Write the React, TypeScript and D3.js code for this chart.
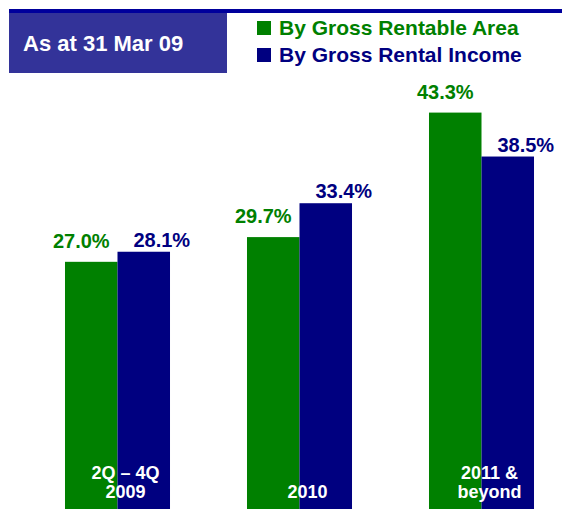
import React, { useEffect, useRef } from 'react';
import * as d3 from 'd3';

const categories = ['2Q – 4Q\n2009', '2010', '2011 &\nbeyond'];
const seriesNames = ['By Gross Rentable Area', 'By Gross Rental Income'];
const areaValues = [27.0, 29.7, 43.3];
const incomeValues = [28.1, 33.4, 38.5];
const seriesColors = ['#008000', '#000080'];
const title = 'As at 31 Mar 09';

const WIDTH = 562;
const HEIGHT = 511;
const FONT = '"Liberation Sans", Arial, sans-serif';

const App = () => {
  const svgRef = useRef<SVGSVGElement>(null);

  useEffect(() => {
    const svg = d3.select(svgRef.current);
    svg.selectAll('*').remove();

    const series = [areaValues, incomeValues];
    const baseline = 509;

    const x0 = d3.scaleBand().domain(categories).range([26.5, 572.5]).paddingInner(0.423).paddingOuter(0.2115);
    const x1 = d3.scaleBand().domain(seriesNames).range([0, x0.bandwidth()]);
    const y = d3.scaleLinear().domain([0, 50]).range([baseline, baseline - 457.75]);

    // header strip + title box
    svg.append('rect').attr('x', 9).attr('y', 9).attr('width', WIDTH - 9).attr('height', 4).attr('fill', '#00009c');
    svg.append('rect').attr('x', 9).attr('y', 13).attr('width', 218).attr('height', 60).attr('fill', '#333399');
    svg.append('text')
      .attr('x', 23).attr('y', 51)
      .attr('fill', '#fff').attr('font-size', 22).attr('font-weight', 'bold').attr('font-family', FONT)
      .text(title);

    // legend
    const legend = svg.append('g').selectAll('g').data(seriesNames).enter().append('g')
      .attr('transform', (d, i) => `translate(257, ${21 + i * 27})`);
    legend.append('rect').attr('width', 14).attr('height', 14).attr('fill', (d, i) => seriesColors[i]);
    legend.append('text')
      .attr('x', 22).attr('y', 14)
      .attr('fill', (d, i) => seriesColors[i])
      .attr('font-size', 21).attr('font-weight', 'bold').attr('font-family', FONT)
      .text(d => d);

    // bars
    const groups = svg.append('g').selectAll('g').data(categories).enter().append('g')
      .attr('transform', d => `translate(${x0(d)}, 0)`);

    groups.selectAll('rect')
      .data((d, ci) => seriesNames.map((s, si) => ({ s, si, v: series[si][ci] })))
      .enter().append('rect')
        .attr('x', d => x1(d.s)!)
        .attr('y', d => y(d.v))
        .attr('width', x1.bandwidth())
        .attr('height', d => baseline - y(d.v))
        .attr('fill', d => seriesColors[d.si]);

    // value labels, green nudged left and blue nudged right as in the source
    const labelDx = [-10, 18];
    const labelDy = [14, 5];
    groups.selectAll('text.val')
      .data((d, ci) => seriesNames.map((s, si) => ({ s, si, v: series[si][ci] })))
      .enter().append('text')
        .attr('class', 'val')
        .attr('x', d => x1(d.s)! + x1.bandwidth() / 2 + labelDx[d.si])
        .attr('y', d => y(d.v) - labelDy[d.si])
        .attr('text-anchor', 'middle')
        .attr('fill', d => seriesColors[d.si])
        .attr('font-size', 20).attr('font-weight', 'bold').attr('font-family', FONT)
        .text(d => d3.format('.1f')(d.v) + '%');

    // category labels inside bars, bottom aligned
    groups.each(function (d) {
      const lines = d.split('\n');
      const t = d3.select(this).append('text')
        .attr('text-anchor', 'middle')
        .attr('fill', '#fff')
        .attr('font-size', 18).attr('font-weight', 'bold').attr('font-family', FONT);
      lines.forEach((line, i) => {
        t.append('tspan')
          .attr('x', x0.bandwidth() / 2 + 8)
          .attr('y', 498 - (lines.length - 1 - i) * 19.5)
          .text(line);
      });
    });
  }, []);

  return (
    <svg
      ref={svgRef}
      width={WIDTH}
      height={HEIGHT}
      style={{ position: 'absolute', left: 0, top: 0, background: 'white' }}
    ></svg>
  );
};

export default App;
